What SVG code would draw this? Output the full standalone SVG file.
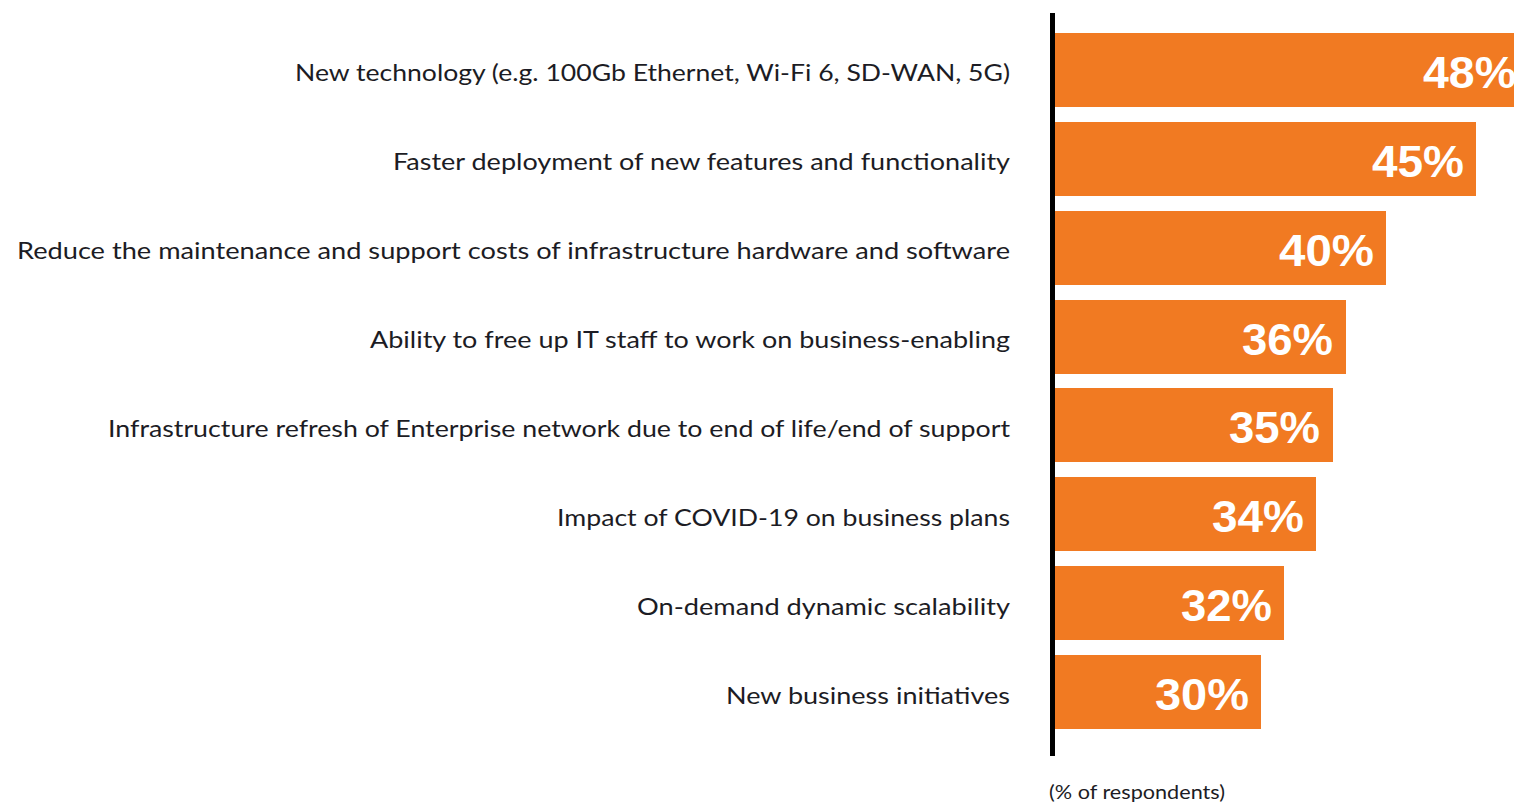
<svg xmlns="http://www.w3.org/2000/svg" width="1514" height="803" viewBox="0 0 1514 803">
<style>
.lbl{font-family:"Lato","Liberation Sans",sans-serif;font-size:24px;fill:#1c1c24;text-anchor:end}
.bar{fill:#F17A22}
.val{font-family:"Liberation Sans","Arial",sans-serif;font-weight:bold;font-size:44px;fill:#ffffff;text-anchor:end}
.note{font-family:"Lato","Liberation Sans",sans-serif;font-size:19px;fill:#1c1c24}
</style>
<rect width="1514" height="803" fill="#ffffff"/>
<g id="labels">
<text class="lbl" x="1010" y="81" textLength="715" lengthAdjust="spacingAndGlyphs">New technology (e.g. 100Gb Ethernet, Wi-Fi 6, SD-WAN, 5G)</text>
<text class="lbl" x="1010" y="170" textLength="617" lengthAdjust="spacingAndGlyphs">Faster deployment of new features and functionality</text>
<text class="lbl" x="1010" y="259" textLength="993" lengthAdjust="spacingAndGlyphs">Reduce the maintenance and support costs of infrastructure hardware and software</text>
<text class="lbl" x="1010" y="348" textLength="640" lengthAdjust="spacingAndGlyphs">Ability to free up IT staff to work on business-enabling</text>
<text class="lbl" x="1010" y="437" textLength="902" lengthAdjust="spacingAndGlyphs">Infrastructure refresh of Enterprise network due to end of life/end of support</text>
<text class="lbl" x="1010" y="526" textLength="453" lengthAdjust="spacingAndGlyphs">Impact of COVID-19 on business plans</text>
<text class="lbl" x="1010" y="615" textLength="373" lengthAdjust="spacingAndGlyphs">On-demand dynamic scalability</text>
<text class="lbl" x="1010" y="704" textLength="284" lengthAdjust="spacingAndGlyphs">New business initiatives</text>
</g>
<g id="bars">
<g id="bar-48"><rect class="bar" x="1055" y="33" width="475" height="74"/><text class="val" x="1516" y="88" textLength="93" lengthAdjust="spacingAndGlyphs">48%</text></g>
<g id="bar-45"><rect class="bar" x="1055" y="122" width="421" height="74"/><text class="val" x="1464" y="177" textLength="92" lengthAdjust="spacingAndGlyphs">45%</text></g>
<g id="bar-40"><rect class="bar" x="1055" y="211" width="331" height="74"/><text class="val" x="1374" y="266" textLength="95" lengthAdjust="spacingAndGlyphs">40%</text></g>
<g id="bar-36"><rect class="bar" x="1055" y="300" width="291" height="74"/><text class="val" x="1333" y="355" textLength="91" lengthAdjust="spacingAndGlyphs">36%</text></g>
<g id="bar-35"><rect class="bar" x="1055" y="388" width="278" height="74"/><text class="val" x="1320" y="443" textLength="91" lengthAdjust="spacingAndGlyphs">35%</text></g>
<g id="bar-34"><rect class="bar" x="1055" y="477" width="261" height="74"/><text class="val" x="1304" y="532" textLength="92" lengthAdjust="spacingAndGlyphs">34%</text></g>
<g id="bar-32"><rect class="bar" x="1055" y="566" width="229" height="74"/><text class="val" x="1272" y="621" textLength="91" lengthAdjust="spacingAndGlyphs">32%</text></g>
<g id="bar-30"><rect class="bar" x="1055" y="655" width="206" height="74"/><text class="val" x="1249" y="710" textLength="94" lengthAdjust="spacingAndGlyphs">30%</text></g>
</g>
<g id="axis">
<rect x="1050" y="13" width="5" height="743" fill="#000000"/>
</g>
<text class="note" x="1049" y="799" textLength="176" lengthAdjust="spacingAndGlyphs">(% of respondents)</text>
</svg>
